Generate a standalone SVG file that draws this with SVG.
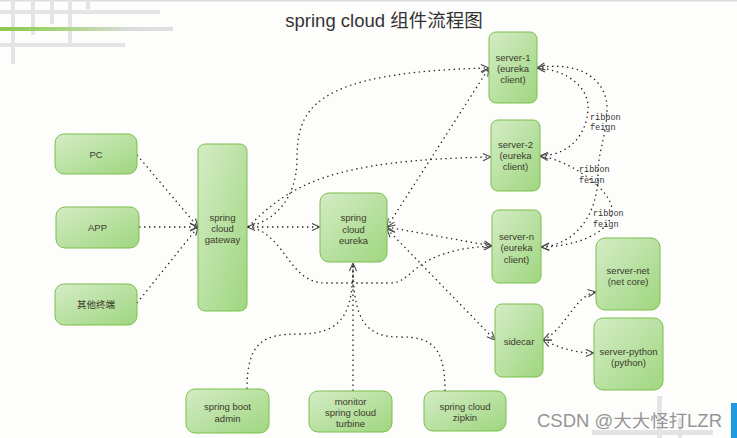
<svg xmlns="http://www.w3.org/2000/svg" width="737" height="438" viewBox="0 0 737 438">
<defs>
<style>
.node{stroke:#7cbf4a;stroke-width:1;fill:url(#g)}
.t{font-family:"Liberation Sans",Arial,"Noto Sans CJK SC",sans-serif;font-size:9.5px;fill:#3a3a2a;text-anchor:middle}
.lbl{font-family:"Liberation Mono","Courier New",monospace;font-size:8.5px;fill:#333}
.c{fill:none;stroke:#222;stroke-width:1.3;stroke-dasharray:1.4 3.6}
.deco{fill:#e4e4e4}
</style>
<linearGradient id="g" x1="0" y1="0" x2="1" y2="1">
<stop offset="0" stop-color="#d4ecc6"/>
<stop offset="1" stop-color="#9fd67f"/>
</linearGradient>
<linearGradient id="gl" x1="0" y1="0" x2="1" y2="0">
<stop offset="0" stop-color="#8cc94f"/>
<stop offset="0.35" stop-color="#a8d47e"/>
<stop offset="0.75" stop-color="#dcdcdc"/>
<stop offset="1" stop-color="#e0e0e0"/>
</linearGradient>
<marker id="a" viewBox="0 0 10 10" refX="10" refY="5" markerWidth="9" markerHeight="9" markerUnits="userSpaceOnUse" orient="auto-start-reverse">
<path d="M1,1 L10,5 L1,9" fill="none" stroke="#444" stroke-width="1.2"/>
</marker>
</defs>
<rect width="737" height="438" fill="#fdfdfb"/>
<g id="decoration">
<rect x="0" y="0" width="737" height="1.5" fill="#dddddd"/>
<rect class="deco" x="0" y="10" width="160" height="4"/>
<rect class="deco" x="0" y="43" width="125" height="4"/>
<rect class="deco" x="11" y="0" width="4" height="64"/>
<rect class="deco" x="31" y="0" width="4" height="35"/>
<rect class="deco" x="50" y="0" width="4" height="24"/>
<rect class="deco" x="68" y="0" width="4" height="43"/>
<rect class="deco" x="86" y="0" width="4" height="9"/>
<rect x="0" y="27" width="173" height="4" fill="url(#gl)"/>
<rect class="deco" x="657" y="396" width="5" height="42"/>
<rect class="deco" x="678" y="418" width="4" height="20"/>
<rect class="deco" x="592" y="430" width="121" height="5"/>
<rect x="731" y="403" width="6" height="35" fill="#1e9ae0"/>
</g>
<text x="384" y="27" font-family="'Liberation Sans',Arial,'Noto Sans CJK SC',sans-serif" font-size="18.5" fill="#333" text-anchor="middle">spring cloud 组件流程图</text>
<g id="connectors">
<path class="c" d="M137,155 L198,227" marker-end="url(#a)"/>
<path class="c" d="M139,227 L198,227" marker-end="url(#a)"/>
<path class="c" d="M137,303 L198,227" marker-end="url(#a)"/>
<path class="c" d="M247,227 L320,227" marker-start="url(#a)" marker-end="url(#a)"/>
<path class="c" d="M248,227 C275,220 296,200 297,160 C297,110 310,72 489,68" marker-end="url(#a)"/>
<path class="c" d="M248,227 C290,185 330,160 491,157" marker-end="url(#a)"/>
<path class="c" d="M248,227 C285,232 288,283 325,283 L390,283 C415,283 410,250 492,246" marker-end="url(#a)"/>
<path class="c" d="M387,227 L489,68" marker-start="url(#a)" marker-end="url(#a)"/>
<path class="c" d="M387,227 L492,246" marker-start="url(#a)" marker-end="url(#a)"/>
<path class="c" d="M387,229 L495,340" marker-start="url(#a)" marker-end="url(#a)"/>
<path class="c" d="M353,391 L353,263" marker-end="url(#a)"/>
<path class="c" d="M247,389 C247,340 265,334 300,334 C345,334 353,310 353,263"/>
<path class="c" d="M445,391 C445,345 430,337 400,337 C365,337 353,320 353,263"/>
<path class="c" d="M537,68 C570,70 590,90 588,110 C586,135 570,155 540,156" marker-start="url(#a)" marker-end="url(#a)"/>
<path class="c" d="M537,68 C580,60 608,80 607,110 C606,140 598,150 598,175 C598,215 575,245 541,247" marker-start="url(#a)" marker-end="url(#a)"/>
<path class="c" d="M540,156 C570,160 612,190 612,210 C612,235 570,247 541,247" marker-start="url(#a)" marker-end="url(#a)"/>
<path class="c" d="M543,340 C565,330 575,295 596,292" marker-start="url(#a)" marker-end="url(#a)"/>
<path class="c" d="M543,340 C560,348 575,353 594,353" marker-start="url(#a)" marker-end="url(#a)"/>
<text class="lbl" x="590" y="120">ribbon</text><text class="lbl" x="590" y="130">feign</text>
<text class="lbl" x="579" y="172">ribbon</text><text class="lbl" x="579" y="183">feign</text>
<text class="lbl" x="593" y="216">ribbon</text><text class="lbl" x="593" y="227">feign</text>
</g>
<g id="pc"><rect class="node" x="55" y="134" width="82" height="40" rx="9"/><text class="t" x="96" y="158">PC</text></g>
<g id="app"><rect class="node" x="56" y="207" width="83" height="41" rx="9"/><text class="t" x="97.5" y="231">APP</text></g>
<g id="other"><rect class="node" x="55" y="284" width="82" height="41" rx="9"/><text class="t" x="96" y="308">其他终端</text></g>
<g id="gateway"><rect class="node" x="198" y="144" width="49" height="167" rx="7"/><text class="t" x="222.5" y="221">spring</text><text class="t" x="222.5" y="232">cloud</text><text class="t" x="222.5" y="243">gateway</text></g>
<g id="eureka"><rect class="node" x="320" y="193" width="67" height="69" rx="9"/><text class="t" x="353.5" y="221">spring</text><text class="t" x="353.5" y="233">cloud</text><text class="t" x="353.5" y="244">eureka</text></g>
<g id="server1"><rect class="node" x="489" y="32" width="48" height="71" rx="7"/><text class="t" x="513" y="61">server-1</text><text class="t" x="513" y="72">(eureka</text><text class="t" x="513" y="83">client)</text></g>
<g id="server2"><rect class="node" x="491" y="120" width="49" height="71" rx="7"/><text class="t" x="515.5" y="148">server-2</text><text class="t" x="515.5" y="159">(eureka</text><text class="t" x="515.5" y="170">client)</text></g>
<g id="servern"><rect class="node" x="492" y="210" width="49" height="73" rx="7"/><text class="t" x="516.5" y="240">server-n</text><text class="t" x="516.5" y="251">(eureka</text><text class="t" x="516.5" y="263">client)</text></g>
<g id="servernet"><rect class="node" x="596" y="238" width="64" height="72" rx="9"/><text class="t" x="628" y="274">server-net</text><text class="t" x="628" y="285">(net core)</text></g>
<g id="sidecar"><rect class="node" x="495" y="304" width="48" height="73" rx="7"/><text class="t" x="519" y="345">sidecar</text></g>
<g id="serverpython"><rect class="node" x="594" y="318" width="69" height="72" rx="9"/><text class="t" x="628.5" y="355">server-python</text><text class="t" x="628.5" y="366">(python)</text></g>
<g id="admin"><rect class="node" x="186" y="389" width="83" height="44" rx="9"/><text class="t" x="227.5" y="410">spring boot</text><text class="t" x="227.5" y="422">admin</text></g>
<g id="turbine"><rect class="node" x="309" y="391" width="83" height="41" rx="9"/><text class="t" x="350.5" y="405">monitor</text><text class="t" x="350.5" y="416">spring cloud</text><text class="t" x="350.5" y="427">turbine</text></g>
<g id="zipkin"><rect class="node" x="424" y="391" width="82" height="40" rx="9"/><text class="t" x="465" y="410">spring cloud</text><text class="t" x="465" y="421">zipkin</text></g>
<text x="537" y="427" font-family="'Liberation Sans',Arial,'Noto Sans CJK SC',sans-serif" font-size="17.5" fill="#959595" stroke="#ffffff" stroke-width="0.6" paint-order="stroke" textLength="185" lengthAdjust="spacingAndGlyphs">CSDN @大大怪打LZR</text>
</svg>
